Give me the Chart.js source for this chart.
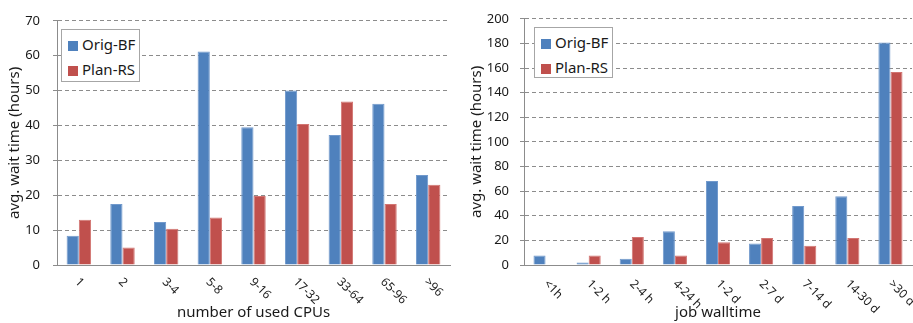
<!DOCTYPE html>
<html>
<head>
<meta charset="utf-8">
<script src="https://cdn.jsdelivr.net/npm/chart.js@4"></script>
<style>
  body { margin: 0; background: #fff; }
  #wrap { position: relative; width: 913px; height: 323px; overflow: hidden; }
  .panel { position: absolute; top: 0; height: 323px; }
  .legend {
    position: absolute; border: 1px solid #a6a6a6; background: #fff;
    font: 15px "Noto Sans", sans-serif; color: #1a1a1a; box-sizing: border-box;
    padding: 2px 0 0 6px;
  }
  .legend div { height: 25px; line-height: 25px; white-space: nowrap; }
  .legend span { display: inline-block; width: 10px; height: 10px; margin-right: 4px; vertical-align: -1px; }
</style>
</head>
<body>
<div id="wrap">
  <div class="panel" style="left:0;width:460px"><canvas id="cpus"></canvas></div>
  <div class="panel" style="left:460px;width:453px"><canvas id="walltime"></canvas></div>
  <div class="legend" style="left:61px;top:29px;width:79px;height:53px">
    <div><span style="background:#4f81bd"></span>Orig-BF</div>
    <div><span style="background:#c0504d"></span>Plan-RS</div>
  </div>
  <div class="legend" style="left:534px;top:27px;width:79px;height:51px">
    <div><span style="background:#4f81bd"></span>Orig-BF</div>
    <div><span style="background:#c0504d"></span>Plan-RS</div>
  </div>
</div>
<script>
const seriesNames = ['Orig-BF', 'Plan-RS'];

const cpuGroups = ['1', '2', '3-4', '5-8', '9-16', '17-32', '33-64', '65-96', '>96'];
const cpuOrigBF = [8.4, 17.5, 12.3, 61.2, 39.5, 50.0, 37.3, 46.2, 25.8];
const cpuPlanRS = [13.0, 5.0, 10.4, 13.6, 19.8, 40.4, 46.9, 17.5, 23.0];
const cpuTicks = [0, 10, 20, 30, 40, 50, 60, 70];

const wallGroups = ['<1h', '1-2 h', '2-4 h', '4-24 h', '1-2 d', '2-7 d', '7-14 d', '14-30 d', '>30 d'];
const wallOrigBF = [7.7, 2.1, 5.0, 27.5, 68.3, 17.5, 47.9, 55.9, 180.7];
const wallPlanRS = [0, 7.7, 22.8, 7.7, 18.5, 22.0, 15.6, 22.0, 156.8];
const wallTicks = [0, 20, 40, 60, 80, 100, 120, 140, 160, 180, 200];

const FONT = '"Noto Sans", sans-serif';
const TEXT = '#1a1a1a';
const GRID = '#8c8c8c';

// x labels slanted downwards to the right, starting at the tick
const slantLabels = {
  id: 'slantLabels',
  afterDraw(chart, args, opts) {
    const x = chart.scales.x;
    const ctx = chart.ctx;
    ctx.save();
    ctx.font = '12px ' + FONT;
    ctx.fillStyle = TEXT;
    ctx.textAlign = 'left';
    ctx.textBaseline = 'middle';
    chart.data.labels.forEach((lab, i) => {
      ctx.save();
      ctx.translate(x.getPixelForValue(i) + opts.dx, x.top + opts.dy);
      ctx.rotate(Math.PI / 4);
      ctx.fillText(lab, 0, 0);
      ctx.restore();
    });
    ctx.restore();
  }
};

function makeChart(id, labels, orig, plan, ticks, xTitle, lay) {
  new Chart(document.getElementById(id), {
    type: 'bar',
    data: {
      labels: labels,
      datasets: [
        { label: seriesNames[0], data: orig, backgroundColor: '#4f81bd', borderColor: '#7199cc', borderWidth: 1 },
        { label: seriesNames[1], data: plan, backgroundColor: '#c0504d', borderColor: '#d27572', borderWidth: 1 },
      ],
    },
    options: {
      responsive: true,
      maintainAspectRatio: false,
      animation: false,
      categoryPercentage: 0.56,
      barPercentage: 1,
      layout: { padding: { left: lay.left, right: lay.right, top: lay.top, bottom: 0 } },
      plugins: {
        legend: { display: false },
        tooltip: { enabled: false },
        slantLabels: { dx: lay.dx, dy: lay.dy },
      },
      scales: {
        x: {
          grid: { display: false },
          border: { display: true, color: '#8c8c8c', width: 1 },
          ticks: { display: false },
          title: { display: true, text: xTitle, color: TEXT, font: { family: FONT, size: 15 }, padding: { top: 0, bottom: 1 } },
          afterFit(s) { s.height = 58; },
        },
        y: {
          min: ticks[0],
          max: ticks[ticks.length - 1],
          afterBuildTicks(s) { s.ticks = ticks.map((v) => ({ value: v })); },
          grid: { color: GRID, lineWidth: 1, drawTicks: true, tickLength: 4, tickColor: '#8c8c8c' },
          border: { display: true, color: '#8c8c8c', width: 1, dash: [4, 3] },
          ticks: { color: TEXT, font: { family: FONT, size: 13 }, padding: lay.tickPad },
          title: { display: true, text: 'avg. wait time (hours)', color: TEXT, font: { family: FONT, size: 15 }, padding: 0 },
          afterFit(s) { s.width = lay.yWidth; },
        },
      },
    },
    plugins: [slantLabels],
  });
}

makeChart('cpus', cpuGroups, cpuOrigBF, cpuPlanRS, cpuTicks, 'number of used CPUs',
  { left: 6, right: 10, top: 19, yWidth: 51, tickPad: 13, dx: -2, dy: 15 });
makeChart('walltime', wallGroups, wallOrigBF, wallPlanRS, wallTicks, 'job walltime',
  { left: 8, right: 1, top: 13, yWidth: 56, tickPad: 11, dx: 0, dy: 17 });
</script>
</body>
</html>
